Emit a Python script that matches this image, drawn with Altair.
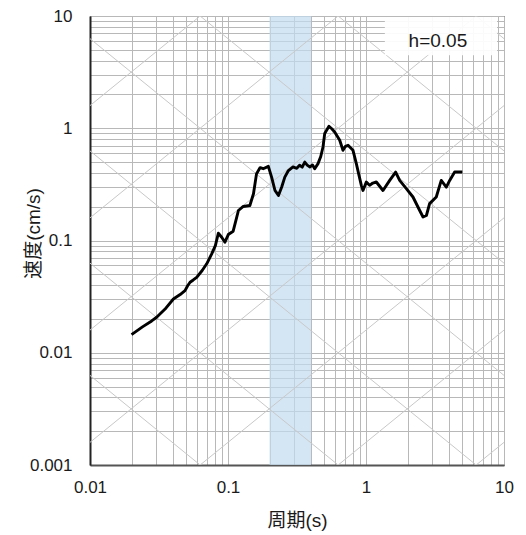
import math
import altair as alt
import pandas as pd

# ---- spectrum (period s, velocity cm/s) ----
period = [0.0200, 0.0240, 0.0280, 0.0304, 0.0350, 0.0402, 0.0450, 0.0488, 0.0510, 0.0531,
          0.0560, 0.0593, 0.0650, 0.0701, 0.0762, 0.0810, 0.0851, 0.0900, 0.0950, 0.1005,
          0.109, 0.114, 0.119, 0.129, 0.144, 0.153, 0.161, 0.171, 0.180, 0.196,
          0.207, 0.219, 0.232, 0.245, 0.258, 0.274, 0.296, 0.315, 0.330, 0.345,
          0.360, 0.375, 0.391, 0.410, 0.425, 0.449, 0.470, 0.488, 0.502, 0.539,
          0.565, 0.593, 0.645, 0.681, 0.710, 0.741, 0.805, 0.851, 0.890, 0.925,
          0.951, 1.005, 1.062, 1.120, 1.188, 1.328, 1.485, 1.640, 1.754, 1.960,
          2.19, 2.45, 2.59, 2.74, 2.89, 3.23, 3.51, 3.82, 4.04, 4.39, 4.99]
velocity = [0.0145, 0.0170, 0.0192, 0.0207, 0.0245, 0.0301, 0.0330, 0.0358, 0.0395, 0.0425,
            0.0445, 0.0470, 0.0540, 0.0620, 0.0760, 0.0900, 0.116, 0.107, 0.0966, 0.113,
            0.121, 0.150, 0.185, 0.201, 0.205, 0.261, 0.394, 0.446, 0.436, 0.458,
            0.367, 0.279, 0.252, 0.300, 0.367, 0.420, 0.452, 0.440, 0.468, 0.450,
            0.500, 0.470, 0.452, 0.470, 0.436, 0.484, 0.560, 0.681, 0.896, 1.04,
            0.990, 0.927, 0.782, 0.636, 0.690, 0.705, 0.636, 0.484, 0.380, 0.310,
            0.279, 0.332, 0.310, 0.325, 0.332, 0.279, 0.343, 0.407, 0.343, 0.290,
            0.244, 0.185, 0.162, 0.167, 0.213, 0.244, 0.343, 0.299, 0.343, 0.407, 0.407]

# ---- axes / band / annotation ----
x_domain = [0.01, 10]
y_domain = [0.001, 10]
band_T = [0.2, 0.4]
label_text = "h=0.05"
label_pos = [3.32, 6.0]          # (T, V) centre of the label
label_box = [1.37, 8.9, 4.48, 9.8]  # T0, T1, V0, V1

# tripartite reference lines: acceleration (cm/s^2) and displacement (cm) decades
accel_decades = [10.0 ** k for k in range(-3, 4)]
disp_decades = [10.0 ** k for k in range(-5, 2)]

x_ticks = [d * 10.0 ** k for k in range(-2, 1) for d in range(1, 10)] + [10.0]
y_ticks = [d * 10.0 ** k for k in range(-3, 1) for d in range(1, 10)] + [10.0]

curve = pd.DataFrame({"T": period, "V": velocity})

rows = []
for i, a in enumerate(accel_decades):
    for t in x_domain:
        rows.append({"T": t, "V": a * t / (2 * math.pi), "g": f"a{i}"})
for i, d in enumerate(disp_decades):
    for t in x_domain:
        rows.append({"T": t, "V": 2 * math.pi * d / t, "g": f"d{i}"})
diag = pd.DataFrame(rows)

band = pd.DataFrame({"T0": [band_T[0]], "T1": [band_T[1]], "V0": [y_domain[0]], "V1": [y_domain[1]]})
box = pd.DataFrame({"T0": [label_box[0]], "T1": [label_box[1]], "V0": [label_box[2]], "V1": [label_box[3]]})
txt = pd.DataFrame({"T": [label_pos[0]], "V": [label_pos[1]], "t": [label_text]})

FONT = "Liberation Sans, Arial, Noto Sans CJK JP"
lab_expr = "(abs(log(datum.value)/LN10 - round(log(datum.value)/LN10)) < 1e-6) ? format(datum.value, '~g') : ''"

xs = alt.Scale(type="log", domain=x_domain, nice=False)
ys = alt.Scale(type="log", domain=y_domain, nice=False)

x_axis = alt.Axis(values=x_ticks, labelExpr=lab_expr, grid=True, gridColor="#b8b8b8", gridWidth=1,
                  ticks=False, domainColor="#555555", domainWidth=2, labelFontSize=17, labelFont=FONT,
                  labelColor="#1a1a1a", labelPadding=14, labelOverlap=False, labelFlush=False,
                  title="周期(s)", titleFont=FONT, titleFontSize=19, titleFontWeight="normal",
                  titleColor="#1a1a1a", titleY=55, titleBaseline="middle")
y_axis = alt.Axis(values=y_ticks, labelExpr=lab_expr, grid=True, gridColor="#b8b8b8", gridWidth=1,
                  ticks=False, domainColor="#222222", domainWidth=2, labelFontSize=17, labelFont=FONT,
                  labelColor="#1a1a1a", labelPadding=18, labelOverlap=False, labelFlush=False,
                  title="速度(cm/s)", titleFont=FONT, titleFontSize=19, titleFontWeight="normal",
                  titleColor="#1a1a1a", titleX=-57, titleY=217, titleAngle=270, titleBaseline="middle")

band_layer = alt.Chart(band).mark_rect(color="#c2dbef", opacity=0.7).encode(
    x=alt.X("T0:Q", scale=xs, axis=x_axis), x2="T1:Q",
    y=alt.Y("V0:Q", scale=ys, axis=y_axis), y2="V1:Q")

diag_layer = alt.Chart(diag).mark_line(color="#c8c8c8", strokeWidth=1, clip=True).encode(
    x=alt.X("T:Q", scale=xs), y=alt.Y("V:Q", scale=ys), detail="g:N")

curve_layer = alt.Chart(curve).mark_line(color="black", strokeWidth=2.9, strokeJoin="round").encode(
    x=alt.X("T:Q", scale=xs), y=alt.Y("V:Q", scale=ys), order=alt.Order("T:Q"))

box_layer = alt.Chart(box).mark_rect(color="white", opacity=0.92).encode(
    x=alt.X("T0:Q", scale=xs), x2="T1:Q", y=alt.Y("V0:Q", scale=ys), y2="V1:Q")

text_layer = alt.Chart(txt).mark_text(font=FONT, fontSize=19, color="#1a1a1a", align="center",
                                      baseline="middle").encode(
    x=alt.X("T:Q", scale=xs), y=alt.Y("V:Q", scale=ys), text="t:N")

chart = alt.layer(band_layer, diag_layer, curve_layer, box_layer, text_layer).properties(
    width=414, height=449,
    autosize=alt.AutoSizeParams(type="none"),
    padding={"left": 82, "top": 8, "right": 14, "bottom": 70},
    background="white",
).configure_view(stroke="black", strokeWidth=1)

chart.save("out.html", embed_options={"renderer": "svg", "actions": False})
